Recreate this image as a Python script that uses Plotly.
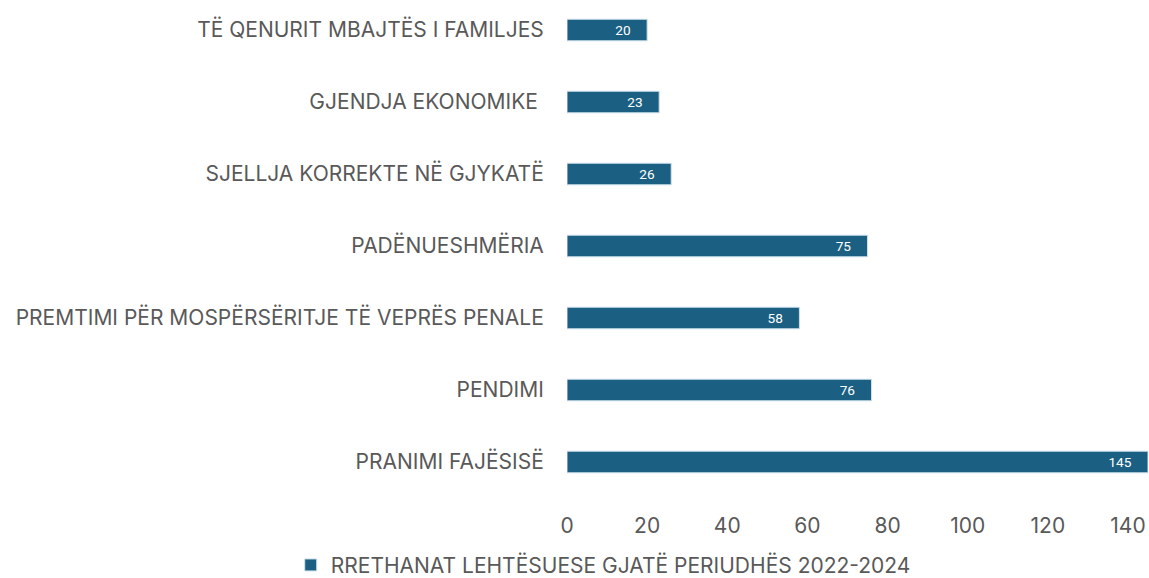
import plotly.graph_objects as go

categories = [
    "PRANIMI FAJËSISË",
    "PENDIMI",
    "PREMTIMI PËR MOSPËRSËRITJE TË VEPRËS PENALE",
    "PADËNUESHMËRIA",
    "SJELLJA KORREKTE NË GJYKATË",
    "GJENDJA EKONOMIKE ",
    "TË QENURIT MBAJTËS I FAMILJES",
]
values = [145, 76, 58, 75, 26, 23, 20]
series_name = "RRETHANAT LEHTËSUESE GJATË PERIUDHËS 2022-2024"
x_ticks = [0, 20, 40, 60, 80, 100, 120, 140]

BAR = "#1B6082"
TXT = "#595959"
FONT = "Inter"
FS = 21

fig = go.Figure()
fig.add_trace(go.Bar(
    y=categories, x=values, orientation="h", name=series_name,
    marker=dict(color=BAR, line=dict(color="#cfe0ea", width=1)),
    text=[str(v) + "\u00a0\u00a0\u00a0\u00a0" for v in values],
    textposition="inside", insidetextanchor="end",
    textfont=dict(color="white", size=14, family="Roboto"),
    width=0.3, showlegend=True,
))
fig.update_layout(
    width=1149, height=578,
    margin=dict(l=567, r=1, t=0, b=80, autoexpand=False),
    paper_bgcolor="white", plot_bgcolor="white",
    font=dict(family=FONT, color=TXT, size=FS),
    xaxis=dict(range=[0, 145], tickvals=x_ticks, showgrid=False, zeroline=False,
               showline=False, ticks="outside", ticklen=9, tickcolor="rgba(0,0,0,0)",
               automargin=False, tickfont=dict(size=FS, color=TXT, family=FONT)),
    yaxis=dict(type="category", range=[-0.5, 6.417], showgrid=False, zeroline=False,
               showline=False, ticks="outside", ticklen=18, tickcolor="rgba(0,0,0,0)",
               automargin=False, tickfont=dict(size=FS, color=TXT, family=FONT)),
    legend=dict(orientation="h", xref="container", yref="container",
                x=0.525, xanchor="center", y=0.022, yanchor="middle",
                font=dict(size=FS, color=TXT, family=FONT), itemwidth=30),
)
fig.write_html("out.html", config={"displayModeBar": False},
               post_script="document.body.style.margin='0';")
